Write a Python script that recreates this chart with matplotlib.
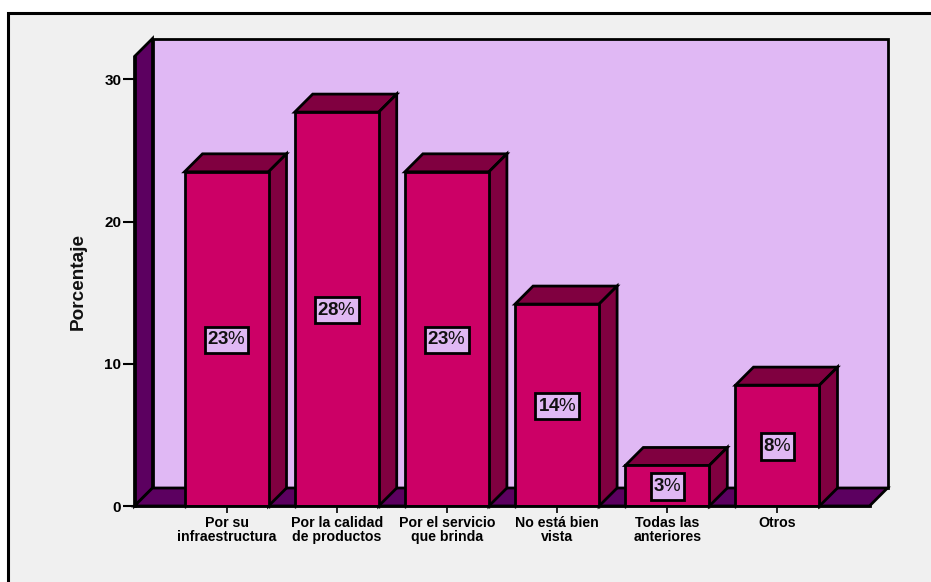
import matplotlib
matplotlib.use("Agg")
import matplotlib.pyplot as plt
from matplotlib.patches import Polygon, Rectangle

categories = ["Por su\ninfraestructura", "Por la calidad\nde productos", "Por el servicio\nque brinda",
              "No está bien\nvista", "Todas las\nanteriores", "Otros"]
values = [23.5, 27.7, 23.5, 14.2, 2.85, 8.5]
pct_labels = ["23", "28", "23", "14", "3", "8"]
y_ticks = [0, 10, 20, 30]

W, H = 931, 582
plt.rcParams['font.family'] = ['Liberation Sans', 'DejaVu Sans']
plt.rcParams['mathtext.fontset'] = 'custom'
plt.rcParams['mathtext.bf'] = 'Liberation Sans:bold'
plt.rcParams['mathtext.rm'] = 'Liberation Sans'

fig = plt.figure(figsize=(W / 100, H / 100), dpi=100, facecolor='white')
fig.add_artist(Rectangle((7.5 / W, -0.05), 1.1, 1.05 - 12.5 / H, transform=fig.transFigure,
                         facecolor='#F0F0F0', edgecolor='black', linewidth=2.2, zorder=-5))

L, R, T, B = 134.5, 869.5, 56.5, 506
ax = fig.add_axes([L / W, 1 - B / H, (R - L) / W, (B - T) / H])
ax.patch.set_visible(False)
x0, x1 = -0.835, 5.835
y0, y1 = 0, (B - T) / 14.22
ax.set_xlim(x0, x1)
ax.set_ylim(y0, y1)
dx = 18 * (x1 - x0) / (R - L)
dy = 18 * (y1 - y0) / (B - T)

WALL, SIDE, BAR, DARK = '#E0B8F4', '#5C0060', '#CC0066', '#800040'
lw = 2.0
kw = dict(edgecolor='black', linewidth=lw, joinstyle='miter', clip_on=False)

ax.add_patch(Polygon([(x0 + dx, y0 + dy), (x1 + dx, y0 + dy), (x1 + dx, y1 + dy), (x0 + dx, y1 + dy)],
                     facecolor=WALL, zorder=1, **kw))
ax.add_patch(Polygon([(x0, y0), (x0 + dx, y0 + dy), (x0 + dx, y1 + dy), (x0, y1)],
                     facecolor=SIDE, zorder=1.5, **kw))
ax.add_patch(Polygon([(x0, y0), (x1, y0), (x1 + dx, y0 + dy), (x0 + dx, y0 + dy)],
                     facecolor=SIDE, zorder=1.5, **kw))

bw = 84 / 110.2
xs = list(range(len(values)))
ax.bar(xs, values, width=bw, color=BAR, edgecolor='black', linewidth=lw, zorder=3)
for x, v, lab in zip(xs, values, pct_labels):
    l, r = x - bw / 2, x + bw / 2
    ax.add_patch(Polygon([(l, v), (r, v), (r + dx, v + dy), (l + dx, v + dy)], facecolor=DARK, zorder=2.5, **kw))
    ax.add_patch(Polygon([(r, 0), (r + dx, dy), (r + dx, v + dy), (r, v)], facecolor=DARK, zorder=2.5, **kw))
    ax.annotate(rf"$\mathbf{{{lab}}}$%", (x, v / 2), xytext=(0, -0.7), textcoords='offset points',
                ha='center', va='center', fontsize=13.5, color='#111111', zorder=5,
                bbox=dict(boxstyle='square,pad=0.13', mutation_aspect=2.0,
                          facecolor=WALL, edgecolor='black', linewidth=lw))

for s in ['top', 'right']:
    ax.spines[s].set_visible(False)
for s in ['left', 'bottom']:
    ax.spines[s].set_linewidth(lw)
    ax.spines[s].set_zorder(4)

ax.set_yticks(y_ticks)
ax.tick_params(axis='y', length=8.5, width=1.5, pad=1, labelsize=11)
ax.set_xticks(xs)
ax.set_xticklabels(categories, fontweight='bold', fontsize=10.2, linespacing=0.98)
ax.tick_params(axis='x', length=5, width=1.2, pad=2)
ax.set_xticks([x + s * bw / 2 for x in xs for s in (-1, 1)], minor=True)
ax.tick_params(axis='x', which='minor', length=1.5, width=1)
for t in ax.get_yticklabels():
    t.set_fontweight('bold')

fig.text(78 / W, 1 - 281 / H, "Porcentaje", rotation=90, ha='center', va='center',
         fontsize=13.7, fontweight='bold', color='#111111')

fig.savefig("out.png", dpi=100, facecolor=fig.get_facecolor())
